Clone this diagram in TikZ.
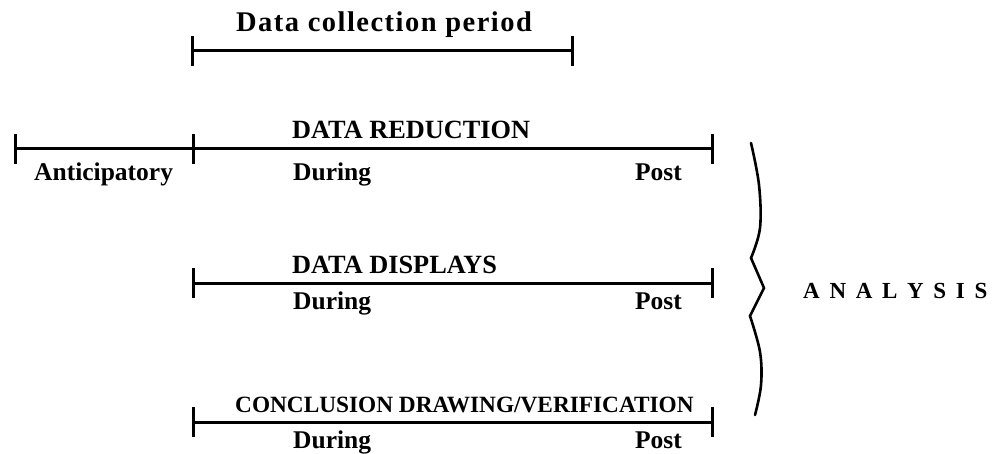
\documentclass[tikz,border=0pt]{standalone}
\usepackage{fontspec}
\setmainfont{Liberation Serif}
\newcommand{\agap}{\hspace{9.7pt}}
\begin{document}
\begin{tikzpicture}[x=1pt,y=-1pt,
  bar/.style={line width=3pt},
  tickmark/.style={line width=3pt},
  lbl/.style={inner sep=0pt,font=\bfseries\fontsize{25.5}{26}\selectfont},
  headlbl/.style={inner sep=0pt,font=\bfseries\fontsize{26.3}{26}\selectfont},
  smalllbl/.style={inner sep=0pt,font=\bfseries\fontsize{23.3}{24}\selectfont},
  titlelbl/.style={inner sep=0pt,font=\bfseries\fontsize{28.5}{28}\selectfont\addfontfeature{LetterSpace=5.2}},
  bracestyle/.style={line width=2.6pt,line cap=round,line join=miter}]
\useasboundingbox (0,0) rectangle (992,454);

% period bar
\node[titlelbl,anchor=base west] (title) at (236,32) {Data collection period};
\coordinate (p1) at (192,51);
\coordinate (p2) at (572,51);
\draw[bar] (p1) -- (p2);
\draw[tickmark] ([yshift=-15pt]p1) -- ([yshift=15pt]p1);
\draw[tickmark] ([yshift=-15pt]p2) -- ([yshift=15pt]p2);

% data reduction
\coordinate (r0) at (15,149);
\coordinate (r1) at (193,149);
\coordinate (r2) at (712,149);
\draw[bar] (r0) -- (r2);
\foreach \c in {r0,r1,r2}
  \draw[tickmark] ([yshift=-15pt]\c) -- ([yshift=15pt]\c);
\node[headlbl,anchor=base west] (red) at (292,139) {DATA REDUCTION};
\node[lbl,anchor=base west] (ant) at (34,181) {Anticipatory};
\node[lbl,anchor=base west] (rdur) at (293,181) {During};
\node[lbl,anchor=base east] (rpost) at (682,181) {Post};

% data displays
\coordinate (d1) at (193,283);
\coordinate (d2) at (712,283);
\draw[bar] (d1) -- (d2);
\foreach \c in {d1,d2}
  \draw[tickmark] ([yshift=-15pt]\c) -- ([yshift=15pt]\c);
\node[headlbl,anchor=base west] (disp) at (292,273) {DATA DISPLAYS};
\node[lbl,anchor=base west] (ddur) at (293,309) {During};
\node[lbl,anchor=base east] (dpost) at (682,309) {Post};

% conclusion drawing
\coordinate (c1) at (193,422);
\coordinate (c2) at (712,422);
\draw[bar] (c1) -- (c2);
\foreach \c in {c1,c2}
  \draw[tickmark] ([yshift=-15pt]\c) -- ([yshift=15pt]\c);
\node[smalllbl,anchor=base west] (concl) at (235,412) {CONCLUSION DRAWING/VERIFICATION};
\node[lbl,anchor=base west] (cdur) at (293,448) {During};
\node[lbl,anchor=base east] (cpost) at (682,448) {Post};

% brace
\coordinate (tip) at (764,288);
\draw[bracestyle] plot[smooth,tension=0.6] coordinates {(751,143) (759,185) (760,228) (751,258)} -- (tip)
  -- plot[smooth,tension=0.6] coordinates {(750,316) (760,352) (761,385) (755,415)};

\node[inner sep=0pt,anchor=base west,font=\bfseries\fontsize{23}{23}\selectfont] (ana) at (803,298)
  {A\agap N\agap A\agap L\agap Y\agap S\agap I\agap S};
\end{tikzpicture}
\end{document}
